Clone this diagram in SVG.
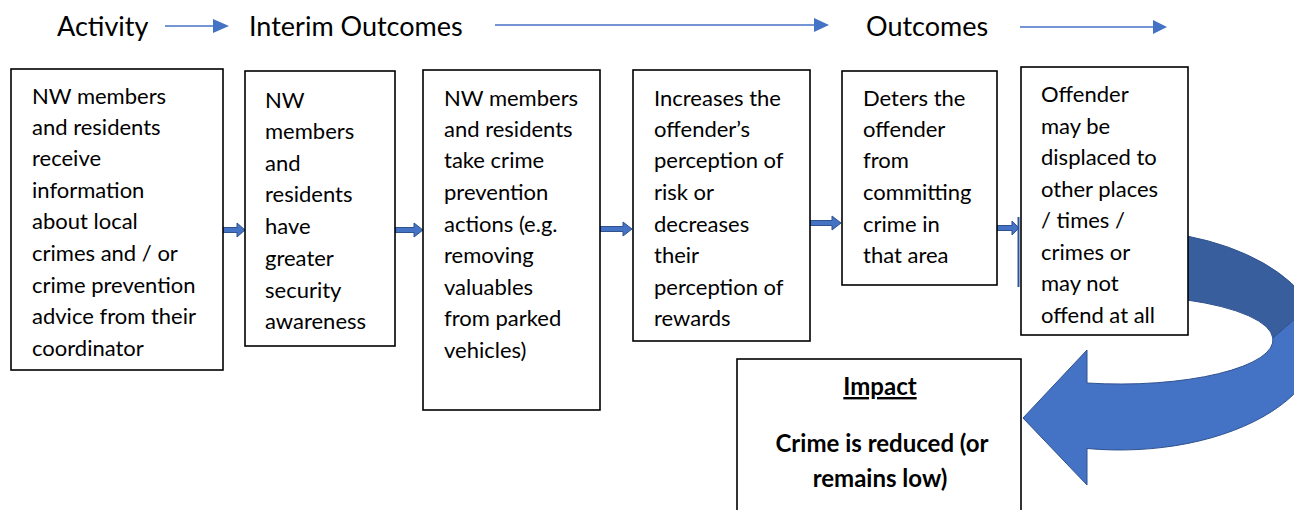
<svg xmlns="http://www.w3.org/2000/svg" width="1294" height="510" viewBox="0 0 1294 510">
<defs>
<style>
.box{fill:#fff;stroke:#000;stroke-width:1.6}
.t{font-family:Lato,"Liberation Sans",sans-serif;font-size:22px;fill:#000}
.h{font-family:Lato,"Liberation Sans",sans-serif;font-size:27px;fill:#000}
.b{font-family:Lato,"Liberation Sans",sans-serif;font-size:24px;font-weight:bold;fill:#000;text-anchor:middle}
.hl{stroke:#4472C4;stroke-width:1.5;fill:none}
.blk{fill:#4472C4;stroke:#2F528F;stroke-width:1}
</style>
</defs>
<rect width="1294" height="510" fill="#fff"/>

<g id="header">
<text class="h" x="57" y="36">Activity</text>
<text class="h" x="249" y="36">Interim Outcomes</text>
<text class="h" x="866" y="36">Outcomes</text>
</g>

<g id="connectors">
<path class="hl" d="M165,26 H213" />
<path d="M213,19 L229,26 L213,33 Z" fill="#4472C4"/>
<path class="hl" d="M495,25 H814" />
<path d="M814,18 L829,25 L814,32 Z" fill="#4472C4"/>
<path class="hl" d="M1020,27 H1153" />
<path d="M1153,20 L1167,27 L1153,34 Z" fill="#4472C4"/>
<path class="blk" d="M223,227.5 H237 V223 L245,230 L237,237 V232.5 H223 Z"/>
<path class="blk" d="M395,227.5 H414 V223 L423,230 L414,237 V232.5 H395 Z"/>
<path class="blk" d="M600,226.5 H623 V222 L632,229 L623,236 V231.5 H600 Z"/>
<path class="blk" d="M810,220.5 H832 V216 L841,223 L832,230 V225.5 H810 Z"/>
<path class="blk" d="M997,225.5 H1012 V221 L1019,228 L1012,235 V230.5 H997 Z"/>
<line x1="1018.5" y1="217" x2="1018.5" y2="287" stroke="#2F5597" stroke-width="2"/>
</g>

<g id="curved-arrow">
<path d="M1187,236 A200 110 0 0 1 1310,306 L1272.8,338 A153 44 0 0 0 1187,300 Z" fill="#385E9D" stroke="#2F528F" stroke-width="1"/>
<path d="M1272.8,338 A153 44 0 0 1 1087,383 L1087,350 L1023,418 L1087,485 L1087,448.5 A200 110 0 0 0 1310,306 Z" fill="#4472C4" stroke="#2F528F" stroke-width="1"/>
</g>

<g id="box1">
<rect class="box" x="11" y="69" width="212" height="301"/>
<text class="t" x="32" y="104">NW members</text>
<text class="t" x="32" y="135">and residents</text>
<text class="t" x="32" y="166">receive</text>
<text class="t" x="32" y="198">information</text>
<text class="t" x="32" y="229">about local</text>
<text class="t" x="32" y="261">crimes and / or</text>
<text class="t" x="32" y="293">crime prevention</text>
<text class="t" x="32" y="324">advice from their</text>
<text class="t" x="32" y="356">coordinator</text>
</g>

<g id="box2">
<rect class="box" x="245" y="71" width="150" height="275"/>
<text class="t" x="265" y="108">NW</text>
<text class="t" x="265" y="139">members</text>
<text class="t" x="265" y="171">and</text>
<text class="t" x="265" y="202">residents</text>
<text class="t" x="265" y="234">have</text>
<text class="t" x="265" y="266">greater</text>
<text class="t" x="265" y="298">security</text>
<text class="t" x="265" y="329">awareness</text>
</g>

<g id="box3">
<rect class="box" x="423" y="70" width="177" height="340"/>
<text class="t" x="444" y="106">NW members</text>
<text class="t" x="444" y="137">and residents</text>
<text class="t" x="444" y="168">take crime</text>
<text class="t" x="444" y="200">prevention</text>
<text class="t" x="444" y="232">actions (e.g.</text>
<text class="t" x="444" y="263">removing</text>
<text class="t" x="444" y="295">valuables</text>
<text class="t" x="444" y="326">from parked</text>
<text class="t" x="444" y="358">vehicles)</text>
</g>

<g id="box4">
<rect class="box" x="633" y="70" width="177" height="271"/>
<text class="t" x="654" y="106">Increases the</text>
<text class="t" x="654" y="137">offender’s</text>
<text class="t" x="654" y="168">perception of</text>
<text class="t" x="654" y="200">risk or</text>
<text class="t" x="654" y="232">decreases</text>
<text class="t" x="654" y="263">their</text>
<text class="t" x="654" y="295">perception of</text>
<text class="t" x="654" y="326">rewards</text>
</g>

<g id="box5">
<rect class="box" x="842" y="71" width="155" height="214"/>
<text class="t" x="863" y="106">Deters the</text>
<text class="t" x="863" y="137">offender</text>
<text class="t" x="863" y="168">from</text>
<text class="t" x="863" y="200">committing</text>
<text class="t" x="863" y="232">crime in</text>
<text class="t" x="863" y="263">that area</text>
</g>

<g id="box6">
<rect class="box" x="1021" y="67" width="167" height="268"/>
<text class="t" x="1041" y="102">Offender</text>
<text class="t" x="1041" y="134">may be</text>
<text class="t" x="1041" y="165">displaced to</text>
<text class="t" x="1041" y="197">other places</text>
<text class="t" x="1041" y="228">/ times /</text>
<text class="t" x="1041" y="260">crimes or</text>
<text class="t" x="1041" y="291">may not</text>
<text class="t" x="1041" y="323">offend at all</text>
</g>

<g id="impact">
<rect class="box" x="737" y="359" width="284" height="170"/>
<text class="b" x="880" y="395" text-decoration="underline">Impact</text>
<text class="b" x="882" y="452">Crime is reduced (or</text>
<text class="b" x="880" y="487">remains low)</text>
</g>
</svg>
